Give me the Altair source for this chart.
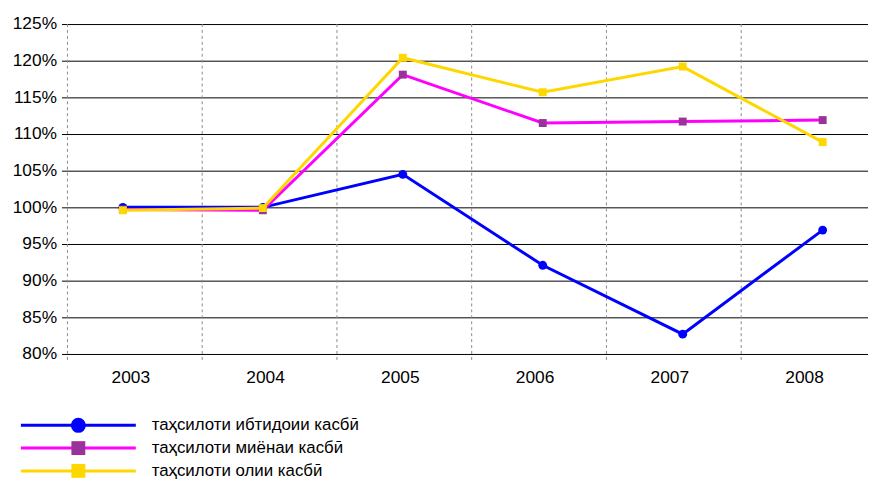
import altair as alt
import pandas as pd

years = ["2003", "2004", "2005", "2006", "2007", "2008"]
series_names = [
    "таҳсилоти ибтидоии касбӣ",
    "таҳсилоти миёнаи касбӣ",
    "таҳсилоти олии касбӣ",
]
blue_vals = [1.000, 1.000, 1.045, 0.921, 0.827, 0.969]
magenta_vals = [0.997, 0.996, 1.181, 1.115, 1.117, 1.119]
yellow_vals = [0.996, 0.999, 1.204, 1.157, 1.192, 1.089]
y_ticks = [0.80, 0.85, 0.90, 0.95, 1.00, 1.05, 1.10, 1.15, 1.20, 1.25]

line_colors = ["#0000ff", "#ff00ff", "#ffd700"]
marker_colors = ["#0000ff", "#993399", "#ffd700"]
marker_shapes = ["circle", "square", "square"]
marker_sizes = [80, 64, 64]
legend_sizes = [230, 196, 196]

FONT = "Liberation Sans"
FS = 17.5

rows = []
for name, vals in zip(series_names, [blue_vals, magenta_vals, yellow_vals]):
    for yr, v in zip(years, vals):
        rows.append({"year": yr, "value": v, "series": name})
df = pd.DataFrame(rows)
band_df = pd.DataFrame({"year": years})
legend_df = pd.DataFrame({
    "series": series_names,
    "lcolor": line_colors,
    "mcolor": marker_colors,
    "shape": marker_shapes,
    "lsize": legend_sizes,
})

# band layer: dashed category separators + year labels
xb = alt.X(
    "year:N",
    sort=years,
    bandPosition=0,
    scale=alt.Scale(type="band", domain=years, range=[0, 816], paddingInner=0, paddingOuter=0),
    axis=alt.Axis(title=None, ticks=False, domain=False, grid=False, labelOffset=-4,
                  labelPadding=15, labelAngle=0, labelFont=FONT, labelFontSize=FS,
                  labelColor="#000000"),
)
separators = alt.Chart(band_df).mark_rule(color="#8a8a8a", strokeDash=[3, 3], strokeWidth=1).encode(
    x=xb, y=alt.value(0), y2=alt.value(341)
)

xs = alt.X("year:N", sort=years,
           scale=alt.Scale(type="point", domain=years, range=[0, 808], padding=0.36, align=0.55),
           axis=None)
ys = alt.Y(
    "value:Q",
    scale=alt.Scale(domain=[0.8, 1.25], nice=False, zero=False),
    axis=alt.Axis(title=None, values=y_ticks, format=".0%", grid=True, gridColor="#000000",
                  gridWidth=1, domain=False, tickSize=6, tickColor="#000000",
                  labelPadding=5, labelFont=FONT, labelFontSize=FS, labelColor="#000000"),
)

data_layers = []
for i, name in enumerate(series_names):
    base = alt.Chart(df).transform_filter(alt.datum.series == name)
    ln = base.mark_line(color=line_colors[i], strokeWidth=3).encode(x=xs, y=ys)
    pt = base.mark_point(filled=True, opacity=1, color=marker_colors[i], shape=marker_shapes[i],
                         size=marker_sizes[i]).encode(x=xs, y=ys)
    data_layers += [ln, pt]

main = alt.layer(*data_layers)

# legend
ly = alt.Y("series:N", sort=series_names,
           scale=alt.Scale(type="point", domain=series_names, range=[405, 451], padding=0),
           axis=None)
leg_line = alt.Chart(legend_df).mark_rule(strokeWidth=3).encode(
    x=alt.value(-47), x2=alt.value(69), y=ly, color=alt.Color("lcolor:N", scale=None)
)
leg_pt = alt.Chart(legend_df).mark_point(filled=True, opacity=1).encode(
    x=alt.value(11), y=ly,
    color=alt.Color("mcolor:N", scale=None),
    shape=alt.Shape("shape:N", scale=None),
    size=alt.Size("lsize:Q", scale=None),
)
leg_text = alt.Chart(legend_df).mark_text(align="left", baseline="middle", font=FONT,
                                          fontSize=17, color="#000000").encode(
    x=alt.value(85), y=ly, text="series:N"
)
legend = alt.layer(leg_line, leg_pt, leg_text)

chart = alt.layer(separators, main, legend).resolve_scale(
    x="independent", y="independent"
).properties(
    width=806, height=333,
    autosize=alt.AutoSizeParams(type="none"),
    padding={"left": 60, "top": 14, "right": 2, "bottom": 125},
).configure_view(stroke=None)

chart.save("out.html", embed_options={"renderer": "svg", "actions": False})
